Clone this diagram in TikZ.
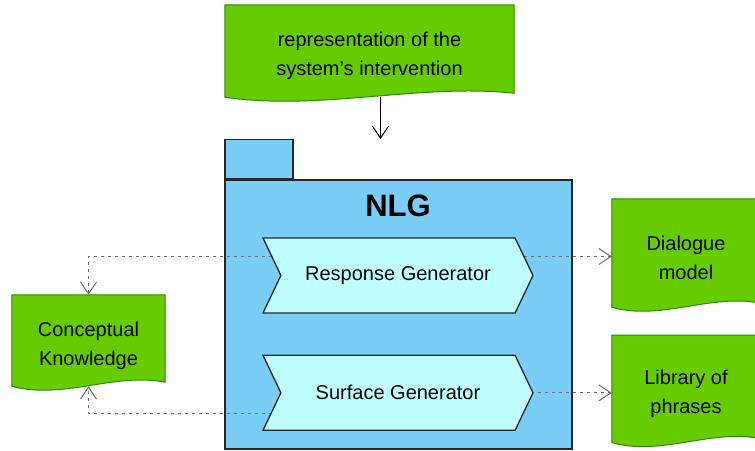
\documentclass[tikz,border=0pt]{standalone}
\usepackage{fontspec}
\setmainfont{Liberation Sans}
\usetikzlibrary{positioning,calc,shapes.symbols,arrows.meta,backgrounds}

\definecolor{docgreen}{RGB}{102,204,0}
\definecolor{docedge}{RGB}{40,140,0}
\definecolor{pkgblue}{RGB}{122,206,245}
\definecolor{stepcyan}{RGB}{192,255,255}
\definecolor{depgray}{RGB}{110,110,110}

% document shape with a wavy bottom, drawn behind the named node
\newcommand{\docshape}[1]{%
  \begin{pgfonlayer}{background}
    \draw[doc line] (#1.north west) -- (#1.north east) -- ([yshift=14pt]#1.south east)
      .. controls ($(#1.south east)!0.33!(#1.south west)+(0,24pt)$)
      and ($(#1.south west)!0.33!(#1.south east)+(0,-4pt)$) .. ([yshift=10pt]#1.south west) -- cycle;
  \end{pgfonlayer}}

\begin{document}
\begin{tikzpicture}[x=1pt,y=-1pt,
    % Define styles for the nodes
    doc node/.style={draw=none, align=center, inner sep=0pt, font=\fontsize{20}{29}\selectfont},
    doc line/.style={draw=docedge, fill=docgreen, line width=1pt},
    pkg part/.style={draw=black!85, fill=pkgblue, line width=1.3pt, inner sep=0pt},
    step node/.style={signal, signal to=east, signal from=west, signal pointer angle=129,
      draw=black!85, fill=stepcyan, line width=1.3pt, minimum width=270pt, minimum height=75pt,
      font=\fontsize{20}{24}\selectfont},
    dep/.style={draw=depgray, line width=1pt, dash pattern=on 3pt off 4pt,
      -{Straight Barb[length=12pt,width=16pt]}},
    flow/.style={draw=black, line width=1pt, -{Straight Barb[length=12pt,width=16pt]}}
    ]

    \useasboundingbox (0,0) rectangle (755,450);
    \begin{pgfonlayer}{background}
      \fill[white] (0,0) rectangle (755,450);
    \end{pgfonlayer}

    % Package NLG
    \begin{pgfonlayer}{background}
      \node[pkg part, minimum width=347pt, minimum height=269pt] (nlg) at (398.5,314.5) {};
      \node[pkg part, minimum width=68pt, minimum height=39pt, anchor=south west] (tab) at (nlg.north west) {};
    \end{pgfonlayer}
    \node[font=\fontsize{31}{36}\selectfont\bfseries] (nlgname) at (398,206) {NLG};

    % Steps inside the package
    \node[step node] (resp) at (398,275.5) {Response Generator};
    \node[step node, below=41pt of resp] (surf) {Surface Generator};

    % Documents
    \node[doc node, minimum width=289pt, minimum height=102pt] (rep) at (369.5,56)
      {representation of the\\system's intervention};
    \node[doc node, minimum width=153pt, minimum height=101pt] (know) at (88.5,345.5)
      {Conceptual\\Knowledge};
    \node[doc node, minimum width=148pt, minimum height=118pt] (dlg) at (686,258)
      {Dialogue\\model};
    \node[doc node, minimum width=148pt, minimum height=117pt, below=18pt of dlg] (lib)
      {Library of\\phrases};
    \docshape{rep}
    \docshape{know}
    \docshape{dlg}
    \docshape{lib}

    % --- Draw the edges ---
    \coordinate (repout) at ([xshift=11pt,yshift=10pt]rep.south);
    \draw[flow] (repout) -- (repout |- tab.north);

    \coordinate (respL) at ([yshift=19pt]resp.center);
    \coordinate (surfL) at ([yshift=-21pt]surf.center);
    \begin{pgfonlayer}{background}
      \draw[dep] (respL) -| (know.north);
      \draw[dep] (respL) -- (respL -| dlg.west);
      \draw[dep] (surfL) -| ([yshift=10pt]know.south);
      \draw[dep] (surf.center) -- (surf.center -| lib.west);
    \end{pgfonlayer}
\end{tikzpicture}
\end{document}
